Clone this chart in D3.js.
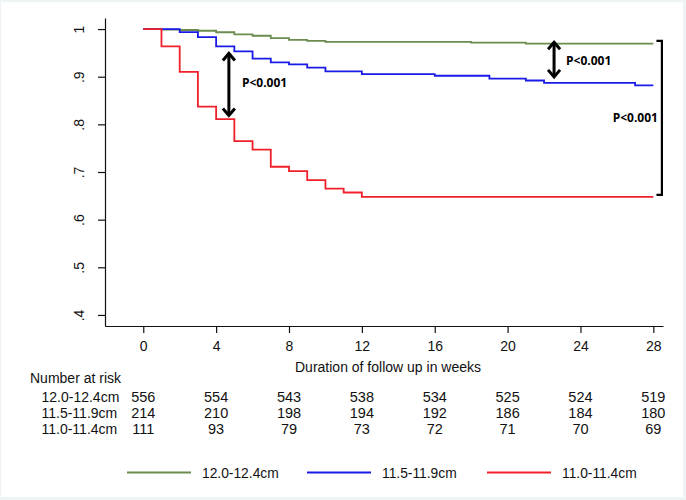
<!DOCTYPE html>
<html>
<head>
<meta charset="utf-8">
<script src="https://cdn.jsdelivr.net/npm/d3@7"></script>
<style>
  body { margin: 0; padding: 0; background: #fff; }
  svg { display: block; }
  text { font-family: "Liberation Sans", Arial, sans-serif; fill: #111; }
  .ann { font-family: "Open Sans", "Noto Sans", sans-serif; font-weight: bold; font-size: 12px; fill: #000; }
</style>
</head>
<body>
<svg id="chart" width="686" height="500"></svg>
<script>
// ---------- data ----------
const groups = ["12.0-12.4cm", "11.5-11.9cm", "11.0-11.4cm"];
const colors = ["#6b8c4e", "#1a1ae6", "#f0202a"];

const timesGreen = [0, 1, 2, 3, 4, 5, 6, 7, 8, 9, 10, 18, 21, 28];
const survGreen  = [1, 0.999, 0.998, 0.9964, 0.9933, 0.989, 0.986, 0.981, 0.9775, 0.975, 0.973, 0.9716, 0.9695, 0.9695];

const timesBlue = [0, 2, 3, 4, 5, 6, 7, 8, 9, 10, 12, 16, 19, 21, 22, 27, 28];
const survBlue  = [1, 0.9937, 0.983, 0.9635, 0.953, 0.938, 0.930, 0.926, 0.919, 0.911, 0.9055, 0.902, 0.896, 0.892, 0.887, 0.882, 0.882];

const timesRed = [0, 1, 2, 3, 4, 5, 6, 7, 8, 9, 10, 11, 12, 28];
const survRed  = [1, 0.9635, 0.910, 0.837, 0.811, 0.765, 0.747, 0.711, 0.702, 0.683, 0.665, 0.657, 0.648, 0.648];

const xTicks = [0, 4, 8, 12, 16, 20, 24, 28];
const yTicks = [0.4, 0.5, 0.6, 0.7, 0.8, 0.9, 1];
const yTickLabels = [".4", ".5", ".6", ".7", ".8", ".9", "1"];

const riskGreen = [556, 554, 543, 538, 534, 525, 524, 519];
const riskBlue  = [214, 210, 198, 194, 192, 186, 184, 180];
const riskRed   = [111, 93, 79, 73, 72, 71, 70, 69];

const xTitle = "Duration of follow up in weeks";
const riskTitle = "Number at risk";
const pText = "P<0.001";

// annotation anchors in data units: [week, survival]
const arrow1 = { t: 4.7, top: 0.951, bottom: 0.8165 };
const arrow2 = { t: 22.55, top: 0.9745, bottom: 0.8975 };
const bracket = { t: 28.47, tEnd: 28.17, top: 0.975, bottom: 0.652 };

// ---------- layout ----------
const svg = d3.select("#chart");
svg.append("rect").attr("width", 686).attr("height", 500).attr("fill", "#eef3f5");
svg.append("rect").attr("x", 1).attr("y", 2).attr("width", 682).attr("height", 495).attr("fill", "#ffffff");

const x = d3.scaleLinear().domain([-2.1, 28.53]).range([105, 663]);
const y = d3.scaleLinear().domain([0.3768, 1.0232]).range([326, 18]);

const FS = 14;

// axes
const yAxis = d3.axisLeft(y).tickValues(yTicks).tickSize(7).tickSizeOuter(0)
  .tickFormat((d, i) => yTickLabels[i]);
const gy = svg.append("g").attr("transform", "translate(105,0)").call(yAxis);
gy.selectAll("path, line").attr("stroke", "#111").attr("stroke-width", 1.2);
gy.selectAll("text")
  .attr("font-size", FS)
  .attr("x", null).attr("dy", null)
  .attr("text-anchor", "middle")
  .attr("dominant-baseline", "central")
  .attr("transform", "translate(-26,0) rotate(-90)");

const xAxis = d3.axisBottom(x).tickValues(xTicks).tickSize(7).tickSizeOuter(0);
const gx = svg.append("g").attr("transform", "translate(0,326)").call(xAxis);
gx.selectAll("path, line").attr("stroke", "#111").attr("stroke-width", 1.2);
gx.selectAll("text").attr("font-size", FS).attr("y", 25).attr("dy", null);

svg.append("text").attr("x", 388).attr("y", 371.5).attr("text-anchor", "middle")
  .attr("font-size", FS).text(xTitle);

// curves
const line = d3.line().x(d => x(d[0])).y(d => y(d[1])).curve(d3.curveStepAfter);
const series = [
  d3.zip(timesGreen, survGreen),
  d3.zip(timesBlue, survBlue),
  d3.zip(timesRed, survRed)
];
series.forEach((s, i) => {
  svg.append("path").datum(s).attr("d", line)
    .attr("fill", "none").attr("stroke", colors[i]).attr("stroke-width", 1.8);
});

// annotations
function dblArrow(a) {
  const ax = x(a.t), y1 = y(a.top), y2 = y(a.bottom);
  const g = svg.append("g").attr("stroke", "#000").attr("stroke-width", 3)
    .attr("fill", "none").attr("stroke-linecap", "butt");
  g.append("line").attr("x1", ax).attr("x2", ax).attr("y1", y1 + 1).attr("y2", y2 - 1);
  g.append("path").attr("d", `M${ax - 6},${y1 + 8} L${ax},${y1 + 1} L${ax + 6},${y1 + 8}`);
  g.append("path").attr("d", `M${ax - 6},${y2 - 8} L${ax},${y2 - 1} L${ax + 6},${y2 - 8}`);
}
dblArrow(arrow1);
dblArrow(arrow2);

svg.append("text").attr("class", "ann").attr("x", x(arrow1.t) + 13)
  .attr("y", (y(arrow1.top) + y(arrow1.bottom)) / 2 - 2).attr("dominant-baseline", "central").text(pText);
svg.append("text").attr("class", "ann").attr("x", x(arrow2.t) + 12)
  .attr("y", (y(arrow2.top) + y(arrow2.bottom)) / 2 + 1).attr("dominant-baseline", "central").text(pText);

const bx = x(bracket.t), bxe = x(bracket.tEnd);
svg.append("path")
  .attr("d", `M${bxe},${y(bracket.top)} L${bx},${y(bracket.top)} L${bx},${y(bracket.bottom)} L${bxe},${y(bracket.bottom)}`)
  .attr("fill", "none").attr("stroke", "#000").attr("stroke-width", 2.2);
svg.append("text").attr("class", "ann").attr("x", bx - 4).attr("text-anchor", "end")
  .attr("y", (y(bracket.top) + y(bracket.bottom)) / 2).attr("dominant-baseline", "central").text(pText);

// number at risk table
svg.append("text").attr("x", 30).attr("y", 382.7).attr("font-size", FS).text(riskTitle);
const risks = [riskGreen, riskBlue, riskRed];
const rowY = [401.7, 418, 434.3];
risks.forEach((r, i) => {
  svg.append("text").attr("x", 41.5).attr("y", rowY[i]).attr("font-size", FS).text(groups[i]);
  svg.selectAll(null).data(r).enter().append("text")
    .attr("x", (d, j) => x(xTicks[j]))
    .attr("y", rowY[i]).attr("text-anchor", "middle").attr("font-size", 14.5)
    .text(d => d);
});

// legend
const legX = [127, 307, 487];
groups.forEach((g, i) => {
  svg.append("line").attr("x1", legX[i]).attr("x2", legX[i] + 64)
    .attr("y1", 472.5).attr("y2", 472.5).attr("stroke", colors[i]).attr("stroke-width", 2.2);
  svg.append("text").attr("x", legX[i] + 75).attr("y", 478).attr("font-size", 13.8).text(g);
});
</script>
</body>
</html>
